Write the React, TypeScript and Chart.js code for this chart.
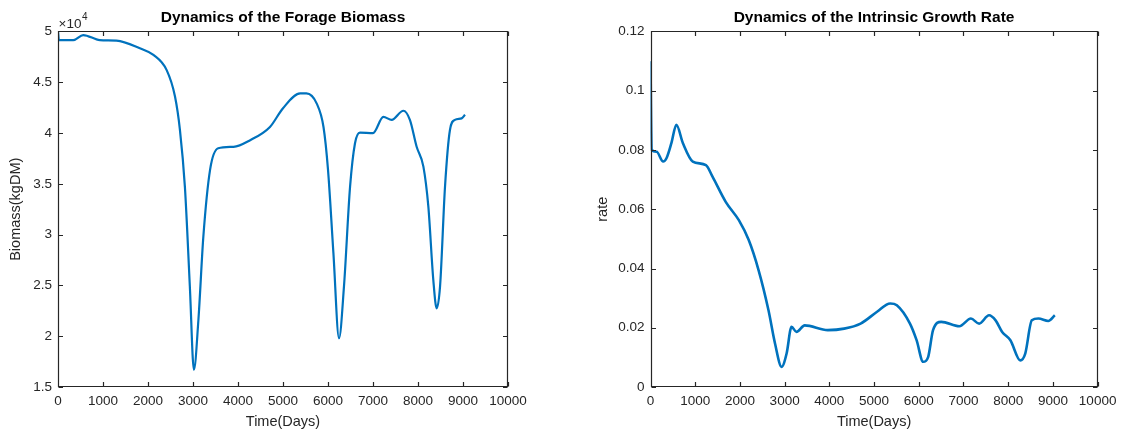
import React, { useEffect, useRef } from "react";
import { Chart, registerables } from "chart.js";

Chart.register(...registerables);

// Forage biomass (kgDM) over the simulation horizon
const biomassDays = [
  0, 20, 340, 560, 930, 1300, 1820, 2120, 2415, 2600,
  2710, 2820, 2930, 3020, 3120, 3230, 3380, 3560, 3900, 4270,
  4710, 5000, 5380, 5520, 5750, 5900, 6000, 6120, 6245, 6355,
  6490, 6600, 6710, 7000, 7230, 7415, 7675, 7820, 7970, 8120,
  8230, 8340, 8415, 8490, 8600, 8710, 8820, 8970, 9045,
];
const biomassKgDM = [
  50000, 49150, 49150, 49650, 49150, 49100, 48350, 47700, 46200, 43600,
  40300, 34700, 24900, 16700, 21600, 29800, 36400, 38500, 38650, 39300,
  40600, 42450, 43900, 43900, 42900, 40600, 36400, 28200, 19800, 24900,
  34700, 39000, 40050, 40000, 41600, 41300, 42200, 41300, 38650, 36700,
  32750, 25550, 22750, 24900, 34700, 40300, 41300, 41450, 41800,
];

// Intrinsic growth rate over the same horizon
const rateDays = [
  0, 25, 136, 283, 357, 467, 578, 725, 946, 1240,
  1387, 1682, 1976, 2197, 2418, 2639, 2786, 2933, 3044, 3154,
  3265, 3449, 3965, 4331, 4699, 5067, 5361, 5509, 5803, 5951,
  6098, 6209, 6319, 6503, 6908, 7166, 7350, 7571, 7718, 7865,
  8049, 8270, 8381, 8528, 8676, 8896, 9043,
];
const rateValues = [
  0.11, 0.08, 0.0794, 0.0761, 0.0772, 0.0823, 0.0885, 0.0823, 0.0761, 0.0749,
  0.071, 0.0625, 0.0563, 0.0496, 0.0394, 0.0259, 0.0146, 0.0068, 0.0113, 0.0203,
  0.0186, 0.0208, 0.0192, 0.0197, 0.0214, 0.0254, 0.0282, 0.0276, 0.0214, 0.0158,
  0.0085, 0.0101, 0.0192, 0.022, 0.0205, 0.0231, 0.0214, 0.0242, 0.0225, 0.0186,
  0.0158, 0.009, 0.0113, 0.0225, 0.0231, 0.0223, 0.0242,
];

// Tick labels
const dayTicks = [0, 1000, 2000, 3000, 4000, 5000, 6000, 7000, 8000, 9000, 10000];
const biomassTicks = [15000, 20000, 25000, 30000, 35000, 40000, 45000, 50000];
const rateTicks = [0, 0.02, 0.04, 0.06, 0.08, 0.1, 0.12];

const LINE_BLUE = "#0072BD";
const AXIS_GRAY = "#262626";
const FONT = "'Liberation Sans', Arial, Helvetica, sans-serif";

// Box frame with inward ticks on all four sides
const boxAxes = {
  id: "boxAxes",
  afterDraw(chart: any) {
    const { ctx, chartArea: a, scales } = chart;
    const L = Math.round(a.left) + 0.5;
    const R = Math.round(a.right) - 0.5;
    const T = Math.round(a.top) + 0.5;
    const B = Math.round(a.bottom) - 0.5;
    const len = 4.5;
    ctx.save();
    ctx.strokeStyle = AXIS_GRAY;
    ctx.lineWidth = 1.2;
    ctx.beginPath();
    ctx.rect(L, T, R - L, B - T);
    for (const t of scales.x.ticks) {
      const px = Math.round(scales.x.getPixelForValue(t.value)) + 0.5;
      ctx.moveTo(px, B);
      ctx.lineTo(px, B - len);
      ctx.moveTo(px, T);
      ctx.lineTo(px, T + len);
    }
    for (const t of scales.y.ticks) {
      const py = Math.round(scales.y.getPixelForValue(t.value)) + 0.5;
      ctx.moveTo(L, py);
      ctx.lineTo(L + len, py);
      ctx.moveTo(R, py);
      ctx.lineTo(R - len, py);
    }
    ctx.stroke();
    ctx.restore();
  },
};

// "×10^4" multiplier above the biomass axis
const exponentLabel = {
  id: "exponentLabel",
  afterDraw(chart: any) {
    const { ctx, chartArea } = chart;
    ctx.save();
    ctx.fillStyle = AXIS_GRAY;
    ctx.textBaseline = "alphabetic";
    ctx.textAlign = "left";
    ctx.font = `13.5px ${FONT}`;
    const x0 = chartArea.left + 0.5;
    ctx.fillText("\u00d710", x0, 27.5);
    const w = ctx.measureText("\u00d710").width;
    ctx.font = `10px ${FONT}`;
    ctx.fillText("4", x0 + w + 0.5, 19.5);
    ctx.restore();
  },
};

type PanelSpec = {
  title: string;
  yTitle: string;
  days: number[];
  values: number[];
  yTicks: number[];
  yLabel: (v: number) => string;
  yAxisWidth: number;
  padRight: number;
  yTitlePad: number;
  lineWidth: number;
  extra: any[];
};

const tickFont = { family: FONT, size: 13.5 };
const titleFont = { family: FONT, size: 14.5 };

function buildChart(canvas: HTMLCanvasElement, spec: PanelSpec) {
  const yMin = spec.yTicks[0];
  const yMax = spec.yTicks[spec.yTicks.length - 1];
  return new Chart(canvas, {
    type: "line",
    data: {
      datasets: [
        {
          data: spec.days.map((d, i) => ({ x: d, y: spec.values[i] })),
          borderColor: LINE_BLUE,
          borderWidth: spec.lineWidth,
          pointRadius: 0,
          cubicInterpolationMode: "monotone",
          fill: false,
        },
      ],
    },
    options: {
      responsive: false,
      animation: false,
      devicePixelRatio: 1,
      layout: { padding: { left: 0, right: spec.padRight, top: 0, bottom: 0 } },
      plugins: {
        legend: { display: false },
        tooltip: { enabled: false },
        title: {
          display: true,
          text: spec.title,
          fullSize: false,
          color: "#000",
          font: { family: FONT, size: 15.5, weight: "bold" },
          padding: { top: 8.2, bottom: 4.7 },
        },
      },
      scales: {
        x: {
          type: "linear",
          min: dayTicks[0],
          max: dayTicks[dayTicks.length - 1],
          afterBuildTicks: (s: any) => {
            s.ticks = dayTicks.map((v) => ({ value: v }));
          },
          afterFit: (s: any) => {
            s.height = 46;
          },
          grid: { display: false, drawTicks: false },
          border: { display: false },
          ticks: {
            color: AXIS_GRAY,
            font: tickFont,
            padding: 6.6,
            maxRotation: 0,
            autoSkip: false,
            callback: (v: any) => String(v),
          },
          title: {
            display: true,
            text: "Time(Days)",
            color: AXIS_GRAY,
            font: titleFont,
            padding: { top: 0, bottom: 2.3 },
          },
        },
        y: {
          type: "linear",
          min: yMin,
          max: yMax,
          afterBuildTicks: (s: any) => {
            s.ticks = spec.yTicks.map((v) => ({ value: v }));
          },
          afterFit: (s: any) => {
            s.width = spec.yAxisWidth;
          },
          grid: { display: false, drawTicks: false },
          border: { display: false },
          ticks: {
            color: AXIS_GRAY,
            font: tickFont,
            padding: 6,
            autoSkip: false,
            callback: (v: any) => spec.yLabel(Number(v)),
          },
          title: {
            display: true,
            text: spec.yTitle,
            color: AXIS_GRAY,
            font: titleFont,
            padding: { top: spec.yTitlePad, bottom: 0 },
          },
        },
      },
    } as any,
    plugins: [boxAxes, ...spec.extra],
  });
}

export default function App() {
  const leftRef = useRef<HTMLCanvasElement | null>(null);
  const rightRef = useRef<HTMLCanvasElement | null>(null);

  useEffect(() => {
    const charts: Chart[] = [];
    if (leftRef.current) {
      charts.push(
        buildChart(leftRef.current, {
          title: "Dynamics of the Forage Biomass",
          yTitle: "Biomass(kgDM)",
          days: biomassDays,
          values: biomassKgDM,
          yTicks: biomassTicks,
          yLabel: (v) => String(v / 10000),
          yAxisWidth: 58,
          padRight: 52,
          yTitlePad: 7.3,
          lineWidth: 2.2,
          extra: [exponentLabel],
        })
      );
    }
    if (rightRef.current) {
      charts.push(
        buildChart(rightRef.current, {
          title: "Dynamics of the Intrinsic Growth Rate",
          yTitle: "rate",
          days: rateDays,
          values: rateValues,
          yTicks: rateTicks,
          yLabel: (v) => String(v),
          yAxisWidth: 90.5,
          padRight: 20.5,
          yTitlePad: 34.3,
          lineWidth: 2.6,
          extra: [],
        })
      );
    }
    return () => charts.forEach((c) => c.destroy());
  }, []);

  return (
    <div
      style={{
        position: "fixed",
        left: 0,
        top: 0,
        width: 1123,
        height: 433,
        background: "#ffffff",
      }}
    >
      <canvas
        ref={leftRef}
        width={560}
        height={433}
        style={{ position: "absolute", left: 0, top: 0, width: 560, height: 433 }}
      />
      <canvas
        ref={rightRef}
        width={563}
        height={433}
        style={{ position: "absolute", left: 560, top: 0, width: 563, height: 433 }}
      />
    </div>
  );
}
